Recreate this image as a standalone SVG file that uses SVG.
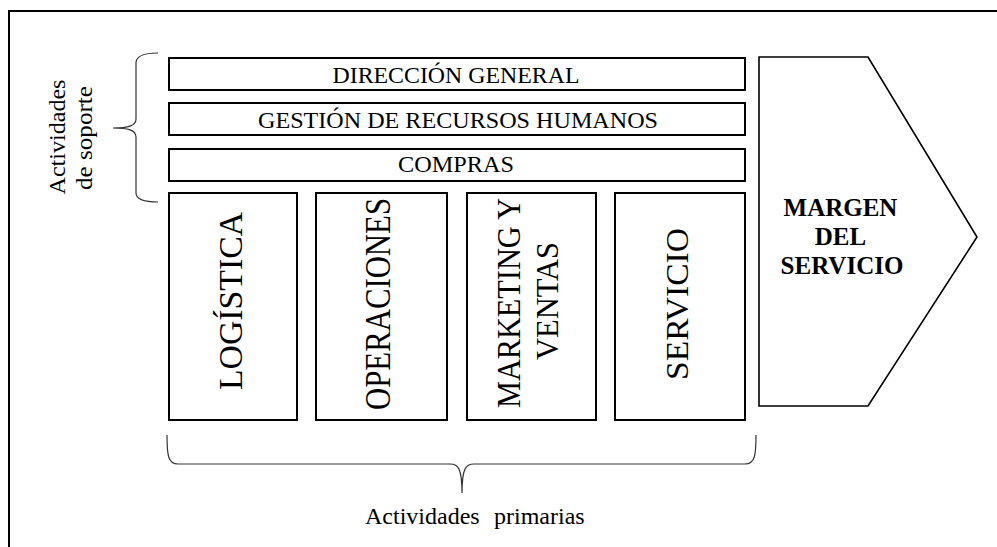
<svg xmlns="http://www.w3.org/2000/svg" width="997" height="547" viewBox="0 0 997 547">
<style>
.box{fill:#fff;stroke:#000;stroke-width:2}
.brace{fill:none;stroke:#333;stroke-width:1.2}
.t{font-family:'Liberation Serif','Times New Roman',serif;fill:#000}
</style>
<rect width="997" height="547" fill="#fff"/>
<g id="frame"><path d="M9,547 L9,11 L997,11" fill="none" stroke="#000" stroke-width="2"/></g>

<g id="direccion"><rect class="box" x="169" y="58" width="576" height="32"/><text class="t" x="456" y="83" font-size="24" text-anchor="middle" textLength="247" lengthAdjust="spacingAndGlyphs">DIRECCIÓN GENERAL</text></g>
<g id="rrhh"><rect class="box" x="169" y="103" width="576" height="32"/><text class="t" x="458" y="128" font-size="24" text-anchor="middle" textLength="400" lengthAdjust="spacingAndGlyphs">GESTIÓN DE RECURSOS HUMANOS</text></g>
<g id="compras"><rect class="box" x="169" y="149" width="576" height="32"/><text class="t" x="456" y="172" font-size="24" text-anchor="middle" textLength="116" lengthAdjust="spacingAndGlyphs">COMPRAS</text></g>

<g id="logistica"><rect class="box" x="169" y="193" width="128" height="227"/><text class="t" transform="translate(242,301) rotate(-90)" font-size="33" text-anchor="middle" textLength="178" lengthAdjust="spacingAndGlyphs">LOGÍSTICA</text></g>
<g id="operaciones"><rect class="box" x="316" y="193" width="131" height="227"/><text class="t" transform="translate(390,304) rotate(-90)" font-size="35" text-anchor="middle" textLength="212" lengthAdjust="spacingAndGlyphs">OPERACIONES</text></g>
<g id="marketing"><rect class="box" x="467" y="193" width="129" height="227"/><text class="t" transform="translate(520,303) rotate(-90)" font-size="33" text-anchor="middle" textLength="210" lengthAdjust="spacingAndGlyphs">MARKETING Y</text><text class="t" transform="translate(558,301) rotate(-90)" font-size="32" text-anchor="middle" textLength="118" lengthAdjust="spacingAndGlyphs">VENTAS</text></g>
<g id="servicio"><rect class="box" x="615" y="193" width="130" height="227"/><text class="t" transform="translate(688,304) rotate(-90)" font-size="32" text-anchor="middle" textLength="152" lengthAdjust="spacingAndGlyphs">SERVICIO</text></g>

<g id="margen"><polygon points="759,57 868,57 977,237 868,406 759,406" fill="#fff" stroke="#000" stroke-width="1.6"/>
<text class="t" font-size="25" font-weight="bold" text-anchor="middle"><tspan x="840.5" y="216">MARGEN</tspan><tspan x="840.5" y="245">DEL</tspan><tspan x="842" y="274">SERVICIO</tspan></text></g>

<g id="soporte-label"><text class="t" transform="translate(65,137) rotate(-90)" font-size="24" text-anchor="middle" textLength="115" lengthAdjust="spacingAndGlyphs">Actividades</text><text class="t" transform="translate(92,138) rotate(-90)" font-size="24" text-anchor="middle" textLength="104" lengthAdjust="spacingAndGlyphs">de soporte</text></g>
<g id="primarias-label"><text class="t" x="365" y="524" font-size="24">Actividades</text><text class="t" x="494" y="524" font-size="24">primarias</text></g>

<g id="connectors">
<path class="brace" d="M158,53 C145,53 136,55 136,63 L136,119 C136,126 128,128 113,128 C128,128 136,130 136,137 L136,193 C136,200 145,202 158,202"/>
<path class="brace" d="M167,435 C167,455 168,464 178,464 L450,464 C458,464 462,468 462,493 C462,468 466,464 474,464 L745,464 C755,464 756,455 756,435"/>
</g>
</svg>
